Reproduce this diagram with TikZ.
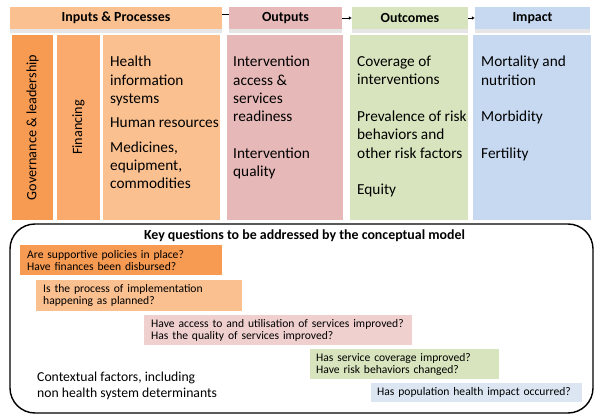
\documentclass[tikz,border=0pt]{standalone}
\usepackage{fontspec}
\setmainfont{Carlito}
\usetikzlibrary{shadows, arrows.meta}

\definecolor{govorange}{HTML}{F79A52}
\definecolor{finorange}{HTML}{F9AA6C}
\definecolor{inorange}{HTML}{FAC090}
\definecolor{outpink}{HTML}{E6B9B8}
\definecolor{outcgreen}{HTML}{D7E4BD}
\definecolor{impblue}{HTML}{C6D9F1}
\definecolor{qpink}{HTML}{EFD0CF}
\definecolor{qblue}{HTML}{DCE6F2}

\tikzset{
  head/.style={minimum height=22pt, inner sep=0pt, font=\fontsize{13.9}{15}\selectfont\bfseries,
    drop shadow={shadow xshift=0pt, shadow yshift=-4pt, opacity=0.2}},
  column/.style={minimum height=185pt, inner sep=0pt},
  coltext/.style={anchor=north west, align=left, inner sep=0pt, font=\fontsize{15.3}{18.3}\selectfont},
  sidetext/.style={rotate=90, inner sep=0pt, font=\fontsize{14.2}{16}\selectfont},
  qbox/.style={anchor=north west, minimum height=30pt, inner xsep=7pt, inner ysep=0pt,
    align=left, font=\fontsize{11.6}{12.2}\selectfont}
}

\begin{document}
\begin{tikzpicture}[x=1pt, y=-1pt]
\useasboundingbox (0,0) rectangle (600,417);

% header row
\node [head, fill=inorange, minimum width=212pt] (inputs) at (116,18) {Inputs \& Processes};
\node [head, fill=outpink, minimum width=113pt] (outputs) at (285.5,18) {Outputs};
\node [head, fill=outcgreen, minimum width=116pt] (outcomes) at (410,18) {Outcomes};
\node [head, fill=impblue, minimum width=115pt] (impact) at (532.5,18) {Impact};
\draw [thick] ([yshift=4pt]inputs.east) -- ([yshift=4pt]outputs.west);
\draw [-{Latex[length=3pt,width=3.5pt]}] (outputs) -- (outcomes);
\draw [-{Latex[length=3pt,width=3.5pt]}] (outcomes) -- (impact);

% columns
\node [column, fill=govorange, minimum width=41pt] (gov) at (32.5,127.5) {};
\node [column, fill=finorange, minimum width=43pt] (fin) at (78.5,127.5) {};
\node [column, fill=inorange, minimum width=117pt] (inp) at (161.5,127.5) {};
\node [column, fill=outpink, minimum width=116pt] (out) at (285,127.5) {};
\node [column, fill=outcgreen, minimum width=118pt] (outc) at (409,127.5) {};
\node [column, fill=impblue, minimum width=118pt] (imp) at (532,127.5) {};

\node [sidetext] (govtext) at (gov) {Governance \& leadership};
\node [sidetext] (fintext) at (fin) {Financing};
\node [coltext] (inptext) at (110,56) {Health\\information\\systems\\[6pt]Human resources\\[6pt]Medicines,\\equipment,\\commodities};
\node [coltext] (outtext) at (233,56) {Intervention\\access \&\\services\\readiness\\[18.3pt]Intervention\\quality};
\node [coltext] (outctext) at (357,56) {Coverage of\\interventions\\[18.3pt]Prevalence of risk\\behaviors and\\other risk factors\\[18.3pt]Equity};
\node [coltext] (imptext) at (481,56) {Mortality and\\nutrition\\[18.3pt]Morbidity\\[18.3pt]Fertility};

% key questions
\draw [line width=1.4pt, rounded corners=25pt] (10,224) rectangle (593,413);
\node [font=\fontsize{13.9}{15}\selectfont\bfseries] (keyq) at (304.5,236) {Key questions to be addressed by the conceptual model};

\node [qbox, fill=govorange, minimum width=202pt, text width=188pt] (q1) at (20,245) {Are supportive policies in place?\\Have finances been disbursed?};
\node [qbox, fill=inorange, minimum width=206pt, text width=192pt, minimum height=31pt] (q2) at (36,280) {Is the process of implementation\\happening as planned?};
\node [qbox, fill=qpink, minimum width=268pt, text width=254pt] (q3) at (144,315) {Have access to and utilisation of services improved?\\Has the quality of services improved?};
\node [qbox, fill=outcgreen, minimum width=189pt, text width=177pt, inner xsep=6pt] (q4) at (310,349) {Has service coverage improved?\\Have risk behaviors changed?};
\node [qbox, fill=qblue, minimum width=211pt, text width=199pt, inner xsep=6pt, minimum height=19pt] (q5) at (371,383) {Has population health impact occurred?};

\node [anchor=north west, align=left, inner sep=0pt, font=\fontsize{13.7}{16}\selectfont] (context) at (37,372) {Contextual factors, including\\non health system determinants};
\end{tikzpicture}
\end{document}
